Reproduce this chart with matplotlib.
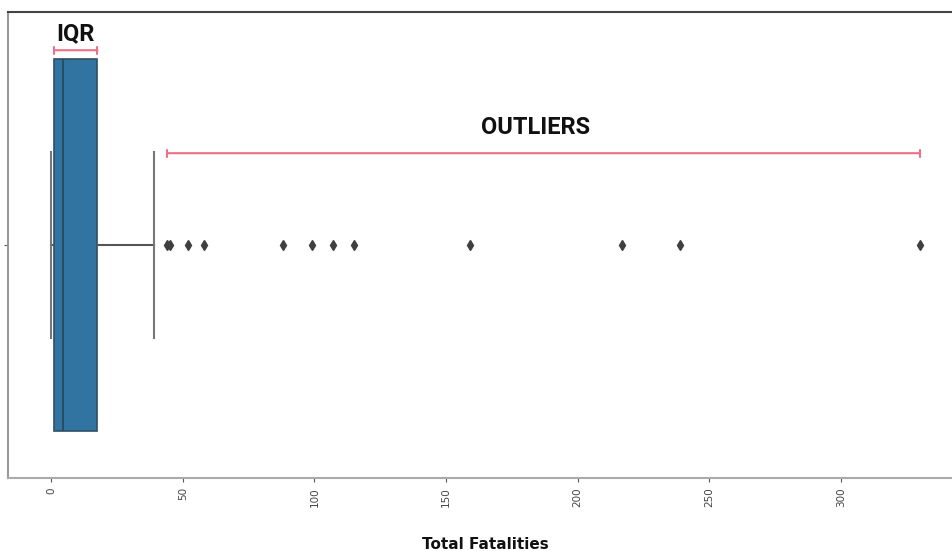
import numpy as np
import matplotlib.pyplot as plt

# box statistics (Total Fatalities)
whisker_low = 0
q1 = 1
median = 4.5
q3 = 17.5
whisker_high = 39
outliers = [44, 45, 52, 58, 88, 99, 107, 115, 159, 217, 239, 330]

x_ticks = [0, 50, 100, 150, 200, 250, 300]

stats = [dict(whislo=whisker_low, q1=q1, med=median, q3=q3,
              whishi=whisker_high, fliers=outliers)]

fig = plt.figure(figsize=(9.52, 5.51), dpi=100)
ax = fig.add_axes([8/952, 73/551, 955/952, 466/551])

gray = "#3f3f3f"
ax.bxp(stats, positions=[0], widths=0.8, vert=False, patch_artist=True,
       showfliers=True,
       boxprops=dict(facecolor="#3274a1", edgecolor="#2f4f66", linewidth=1.2),
       medianprops=dict(color="#2a4d66", linewidth=1.5),
       whiskerprops=dict(color="#555555", linewidth=1.5),
       capprops=dict(color="#777777", linewidth=1.5),
       flierprops=dict(marker="d", markerfacecolor=gray, markeredgecolor=gray,
                       markersize=5))

ax.set_ylim(0.5, -0.5)
ax.set_xlim(-16.5, 346.5)
ax.set_yticks([0])
ax.set_yticklabels([""])
ax.set_xticks(x_ticks)
ax.set_xticklabels([str(t) for t in x_ticks], rotation=90, fontsize=7.5, color="#444444")
ax.tick_params(axis="both", length=3, color="#555555")

ax.spines["top"].set_color("#444444")
ax.spines["left"].set_color("#999999")
ax.spines["bottom"].set_color("#aaaaaa")
for s in ax.spines.values():
    s.set_linewidth(1.5)

ax.set_xlabel("Total Fatalities", fontsize=11, fontweight="bold", labelpad=22, color="#111111")

# annotations
red = "#ee6f86"
ax.annotate("", xy=(q1, 0.918), xytext=(q3, 0.918),
            xycoords=("data", "axes fraction"),
            arrowprops=dict(arrowstyle="|-|, widthA=0.25, widthB=0.25", color=red, lw=1.5,
                            shrinkA=0, shrinkB=0))
ax.text((q1 + q3) / 2, 0.953, "IQR", transform=ax.get_xaxis_transform(),
        ha="center", va="center", fontsize=17, family="Roboto", fontweight="bold", color="#111111")

ax.annotate("", xy=(outliers[0], 0.697), xytext=(outliers[-1], 0.697),
            xycoords=("data", "axes fraction"),
            arrowprops=dict(arrowstyle="|-|, widthA=0.25, widthB=0.25", color=red, lw=1.5,
                            shrinkA=0, shrinkB=0))
ax.text(184, 0.753, "OUTLIERS", transform=ax.get_xaxis_transform(),
        ha="center", va="center", fontsize=17, family="Roboto", fontweight="bold", color="#111111")

fig.savefig("out.png", dpi=100)
